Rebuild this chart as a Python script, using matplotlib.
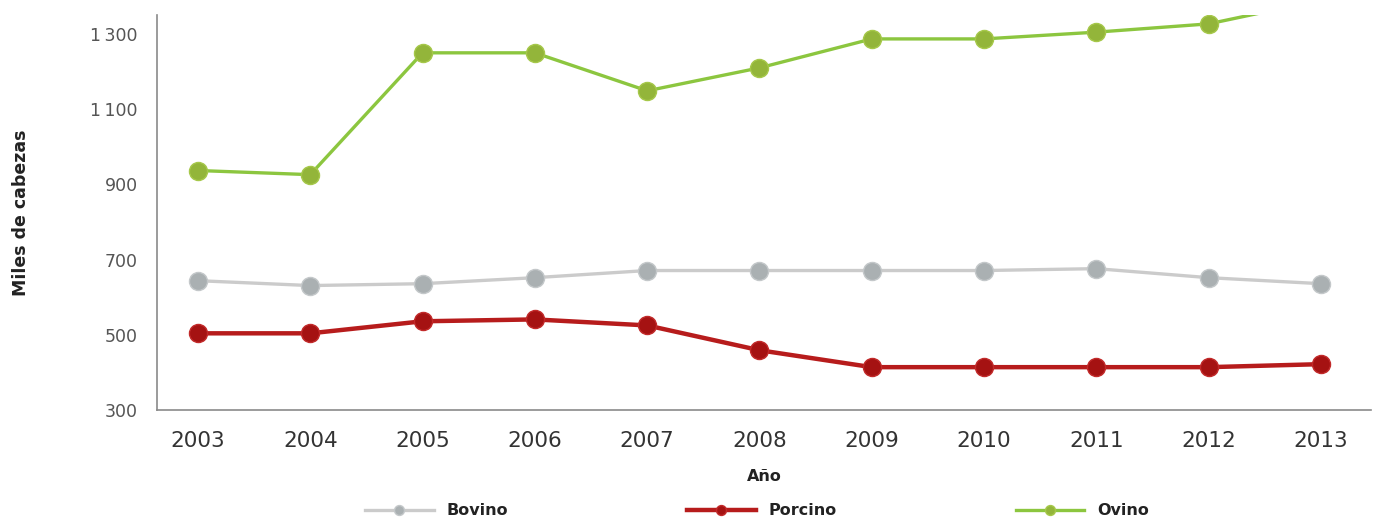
import matplotlib.pyplot as plt

years = [2003, 2004, 2005, 2006, 2007, 2008, 2009, 2010, 2011, 2012, 2013]
bovino = [644, 631, 636, 652, 671, 671, 671, 671, 676, 652, 636]
porcino = [504, 504, 536, 541, 525, 459, 414, 414, 414, 414, 422]
ovino = [937, 926, 1250, 1250, 1149, 1210, 1287, 1287, 1305, 1327, 1390]

y_ticks = [300, 500, 700, 900, 1100, 1300]
y_labels = ["300", "500", "700", "900", "1\u2009100", "1\u2009300"]


def main():
    plt.rcParams["font.family"] = ["DejaVu Sans"]
    fig = plt.figure(figsize=(13.77, 5.25), dpi=100)
    ax = fig.add_axes([0.114, 0.219, 0.882, 0.752])

    x = list(range(len(years)))
    ax.plot(x, bovino, color="#cbcbcb", lw=2.4, marker="o", ms=13,
            mfc="#aab0b2", mec="#c4c8ca", mew=1, label="Bovino")
    ax.plot(x, porcino, color="#b71c1c", lw=3.2, marker="o", ms=13,
            mfc="#a51212", mec="#c22a2a", mew=1, label="Porcino")
    ax.plot(x, ovino, color="#8cc63f", lw=2.4, marker="o", ms=13,
            mfc="#93b53a", mec="#a6c84a", mew=1, label="Ovino")

    ax.set_xlim(-0.365, 10.45)
    ax.set_ylim(300, 1350)
    ax.set_xticks(x)
    ax.set_xticklabels([str(y) for y in years], fontsize=15.5, color="#333333")
    ax.set_yticks(y_ticks)
    ax.set_yticklabels(y_labels, fontsize=12.5, color="#555555")
    ax.tick_params(length=0, pad=14)
    ax.tick_params(axis="x", pad=15)

    for s in ["top", "right"]:
        ax.spines[s].set_visible(False)
    for s in ["left", "bottom"]:
        ax.spines[s].set_color("#8a8a8a")
        ax.spines[s].set_linewidth(1.2)

    ax.set_ylabel("Miles de cabezas", fontsize=12.5, fontweight="bold",
                  color="#222222", labelpad=43)
    ax.set_xlabel("Año", fontsize=11.5, fontweight="bold", color="#222222",
                  labelpad=13)

    leg = ax.legend(loc="center", bbox_to_anchor=(0.494, -0.255), ncol=3,
                    frameon=False, fontsize=11.5, handlelength=4.3,
                    columnspacing=11.2, markerscale=0.55)
    for t in leg.get_texts():
        t.set_fontweight("bold")
        t.set_color("#222222")

    fig.savefig("out.png", dpi=100)


if __name__ == "__main__":
    main()
